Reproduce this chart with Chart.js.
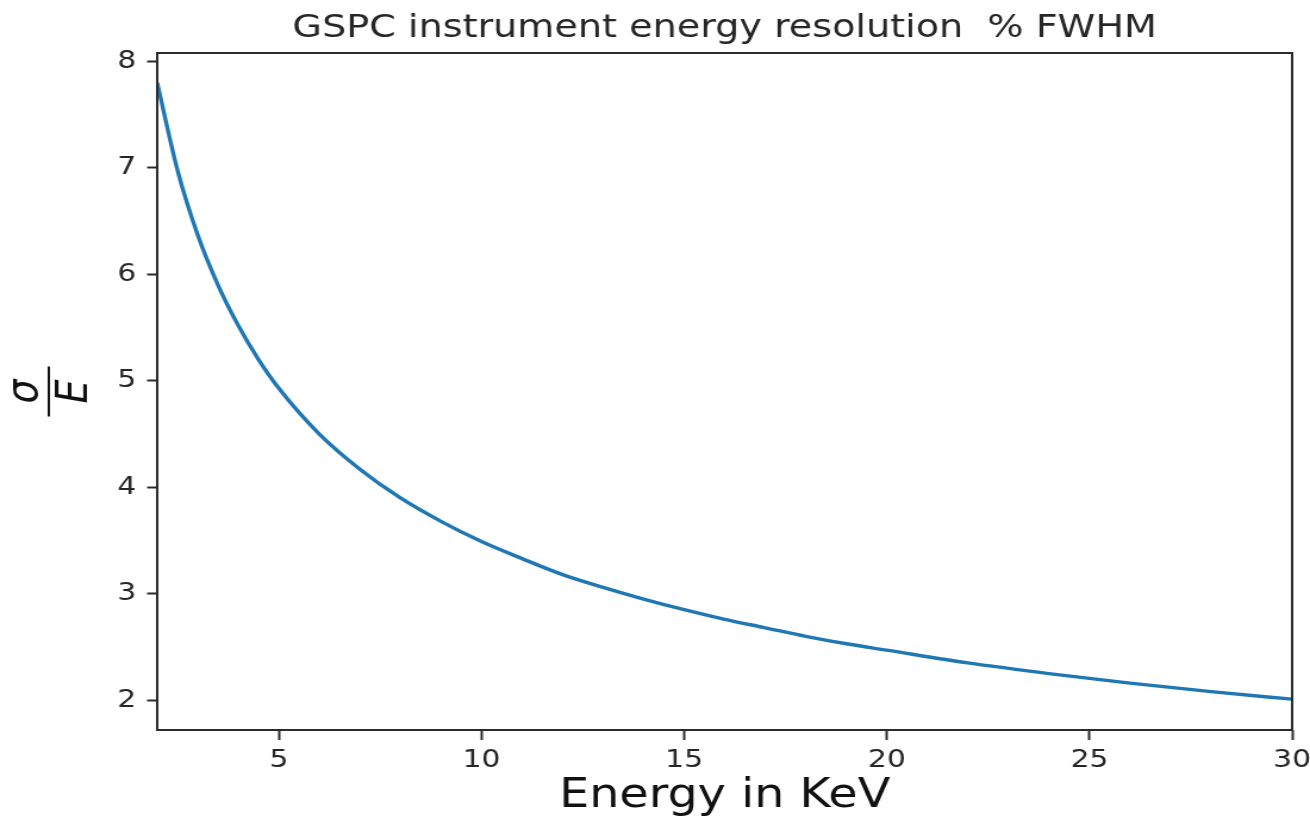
<!DOCTYPE html>
<html>
<head>
<meta charset="utf-8">
<title>GSPC instrument energy resolution</title>
<script src="https://cdn.jsdelivr.net/npm/chart.js@4/dist/chart.umd.min.js"></script>
<style>
  html, body { margin: 0; padding: 0; background: #ffffff; overflow: hidden; }
  #wrap { width: 1310px; height: 824px; }
</style>
</head>
<body>
<!-- the figure is drawn at a 4:3-like working width and widened to the page -->
<div id="wrap"><canvas id="c" width="1100" height="824" style="width:1310px;height:824px;display:block"></canvas></div>
<script>
// Photon energy (keV) and the resolution sigma/E (% FWHM) at each energy
const energyKeV = [2, 2.5, 3, 3.5, 4, 4.5, 5, 6, 7, 8, 9, 10, 11, 12, 13, 14, 15, 16, 17, 18, 19, 20, 22, 24, 26, 28, 30];
const resolution = [7.80, 6.98, 6.37, 5.90, 5.52, 5.20, 4.93, 4.50, 4.17, 3.90, 3.68, 3.49, 3.33, 3.18, 3.06, 2.95, 2.85, 2.76, 2.68, 2.60, 2.53, 2.47, 2.35, 2.25, 2.16, 2.08, 2.01];

// Axis tick labels
const xTicks = [5, 10, 15, 20, 25, 30];
const yTicks = [2, 3, 4, 5, 6, 7, 8];

const chartTitle = 'GSPC instrument energy resolution  % FWHM';
const xTitle = 'Energy in KeV';

const FONT = "'DejaVu Sans', sans-serif";
const INK = '#262626';

// Closed frame, title centred over the axes, and the sigma/E fraction label
const framePlugin = {
  id: 'frame',
  afterDraw(chart) {
    const { ctx, chartArea: a } = chart;
    ctx.save();
    ctx.strokeStyle = '#2b2b2b';
    ctx.lineWidth = 2;
    ctx.strokeRect(a.left, a.top, a.right - a.left, a.bottom - a.top);

    ctx.fillStyle = INK;
    ctx.font = "32px " + FONT;
    ctx.textAlign = 'center';
    ctx.textBaseline = 'alphabetic';
    ctx.fillText(chartTitle, (a.left + a.right) / 2, 37);

    const cy = (a.top + a.bottom) / 2;
    ctx.translate(41, cy);
    ctx.rotate(-Math.PI / 2);
    ctx.fillStyle = '#111111';
    ctx.textBaseline = 'middle';
    ctx.font = "italic 38px " + FONT;
    ctx.fillText('\u03C3', 0, -20);
    ctx.fillText('E', 0, 22);
    ctx.strokeStyle = '#111111';
    ctx.lineWidth = 2;
    ctx.beginPath();
    ctx.moveTo(-25, 0);
    ctx.lineTo(25, 0);
    ctx.stroke();
    ctx.restore();
  }
};

new Chart(document.getElementById('c'), {
  type: 'line',
  data: {
    datasets: [{
      data: energyKeV.map((e, i) => ({ x: e, y: resolution[i] })),
      borderColor: '#1f77b4',
      borderWidth: 3.4,
      pointRadius: 0,
      fill: false,
      cubicInterpolationMode: 'monotone'
    }]
  },
  options: {
    responsive: false,
    maintainAspectRatio: false,
    animation: false,
    devicePixelRatio: 1,
    layout: { padding: { left: 0, right: 15, top: 53, bottom: 0 } },
    plugins: {
      legend: { display: false },
      tooltip: { enabled: false },
      title: { display: false }
    },
    scales: {
      x: {
        type: 'linear',
        min: 2,
        max: 30,
        afterBuildTicks(scale) { scale.ticks = xTicks.map(v => ({ value: v })); },
        afterFit(scale) {
          scale.height = 94;
          scale.paddingLeft = 0;
          scale.paddingRight = 0;
        },
        grid: { drawOnChartArea: false, drawTicks: true, tickLength: 10, tickWidth: 2, color: '#2b2b2b' },
        border: { display: false },
        ticks: { color: INK, font: { family: FONT, size: 25 }, padding: 5, maxRotation: 0 },
        title: {
          display: true,
          text: xTitle,
          color: '#111111',
          font: { family: FONT, size: 40, weight: 'normal', lineHeight: 1.2 },
          padding: { top: 0, bottom: 3 }
        }
      },
      y: {
        type: 'linear',
        min: 1.72,
        max: 8.08,
        afterBuildTicks(scale) { scale.ticks = yTicks.map(v => ({ value: v })); },
        afterFit(scale) { scale.width = 132; },
        grid: { drawOnChartArea: false, drawTicks: true, tickLength: 8.5, tickWidth: 2, color: '#2b2b2b' },
        border: { display: false },
        ticks: { color: INK, font: { family: FONT, size: 25 }, padding: 9 }
      }
    }
  },
  plugins: [framePlugin]
});
</script>
</body>
</html>
